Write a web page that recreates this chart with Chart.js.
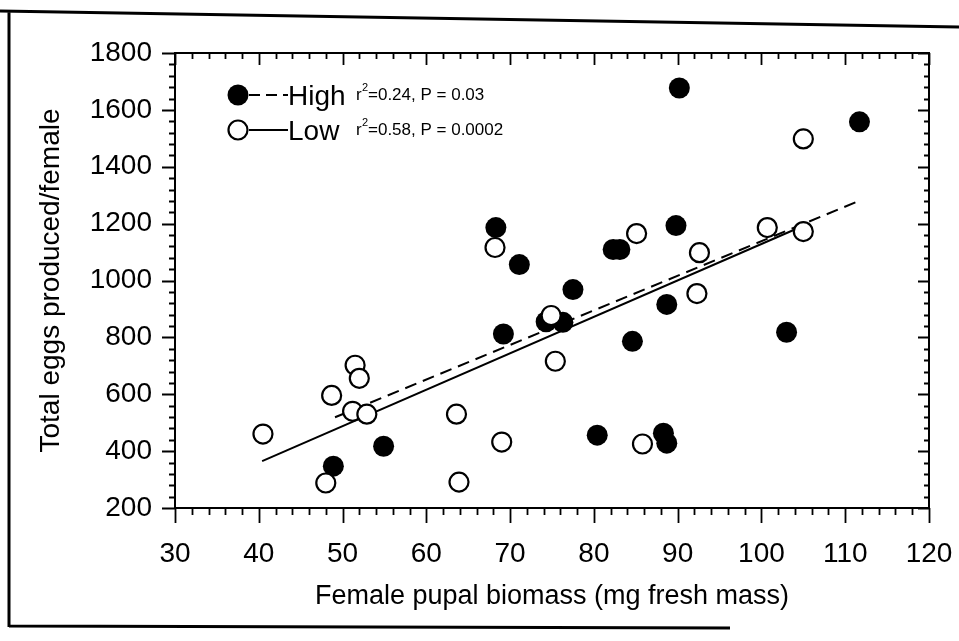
<!DOCTYPE html>
<html lang="en">
<head>
    <meta charset="UTF-8">
    <title>Eggs vs pupal biomass</title>
    <script src="https://cdn.jsdelivr.net/npm/chart.js"></script>
    <style>
        body {
            margin: 0;
            padding: 0;
            background: #ffffff;
        }
        .wrap {
            width: 959px;
            height: 641px;
            position: relative;
        }
    </style>
</head>
<body>
    <div class="wrap">
        <canvas id="eggChart"></canvas>
    </div>

    <script>
        // High density females (filled circles)
        const highMass = [48.9, 54.9, 68.3, 69.2, 71.1, 74.3, 76.3, 77.5, 80.4, 82.3, 83.1, 84.6, 88.3, 88.7, 88.7, 89.8, 90.2, 103.0, 111.7];
        const highEggs = [347, 417, 1186, 812, 1056, 855, 853, 968, 456, 1109, 1109, 786, 463, 428, 916, 1193, 1677, 818, 1558];

        // Low density females (open circles)
        const lowMass = [40.5, 48.0, 48.7, 51.5, 52.0, 51.2, 52.9, 63.6, 63.9, 69.0, 75.4, 68.2, 74.9, 85.8, 92.3, 92.6, 85.1, 100.7, 105.0, 105.0];
        const lowEggs = [460, 288, 596, 702, 656, 540, 530, 530, 291, 432, 716, 1116, 877, 425, 954, 1098, 1165, 1186, 1172, 1498];

        // fitted regression lines (end points)
        const highFitMass = [49.1, 111.4];
        const highFitEggs = [519, 1277];
        const lowFitMass = [40.4, 104.8];
        const lowFitEggs = [365, 1190];

        const xTickValues = [30, 40, 50, 60, 70, 80, 90, 100, 110, 120];
        const yTickValues = [200, 400, 600, 800, 1000, 1200, 1400, 1600, 1800];

        const legendRows = [
            { name: "High", filled: true, dashed: true, r2: "0.24", p: "0.03" },
            { name: "Low", filled: false, dashed: false, r2: "0.58", p: "0.0002" }
        ];

        const FONT = "'Liberation Sans', Arial, sans-serif";

        function pairs(xs, ys) {
            return xs.map((v, i) => ({ x: v, y: ys[i] }));
        }

        // box, ticks on all four sides, legend and page frame
        const framePlugin = {
            id: "framePlugin",
            afterDraw(chart) {
                const ctx = chart.ctx;
                const { left, right, top, bottom } = chart.chartArea;
                const xs = chart.scales.x, ys = chart.scales.y;
                ctx.save();
                ctx.strokeStyle = "#000";
                ctx.lineWidth = 2;
                ctx.strokeRect(left, top, right - left, bottom - top);

                ctx.lineWidth = 1.8;
                ctx.beginPath();
                for (let v = xs.min; v <= xs.max; v += 2) {
                    const px = Math.round(xs.getPixelForValue(v)) + 0.5;
                    const major = v % 10 === 0;
                    ctx.moveTo(px, bottom);
                    ctx.lineTo(px, bottom + (major ? 15 : 7));
                    ctx.moveTo(px, top);
                    ctx.lineTo(px, top + (major ? 12 : 6));
                }
                for (let v = ys.min; v <= ys.max; v += 40) {
                    const py = Math.round(ys.getPixelForValue(v)) + 0.5;
                    const major = v % 200 === 0;
                    ctx.moveTo(left, py);
                    ctx.lineTo(left - (major ? 13 : 6), py);
                    ctx.moveTo(right, py);
                    ctx.lineTo(right - (major ? 11 : 5), py);
                }
                ctx.stroke();

                // legend
                legendRows.forEach((row, i) => {
                    const cy = top + 42 + i * 35;
                    const cx = left + 63;
                    ctx.lineWidth = 2;
                    ctx.setLineDash(row.dashed ? [11, 6] : []);
                    ctx.beginPath();
                    ctx.moveTo(cx + 11, cy);
                    ctx.lineTo(cx + 50, cy);
                    ctx.stroke();
                    ctx.setLineDash([]);
                    ctx.beginPath();
                    ctx.arc(cx, cy, row.filled ? 10.5 : 9.5, 0, Math.PI * 2);
                    ctx.fillStyle = row.filled ? "#000" : "#fff";
                    ctx.fill();
                    if (!row.filled) {
                        ctx.lineWidth = 2.2;
                        ctx.stroke();
                    }
                    ctx.fillStyle = "#000";
                    ctx.textBaseline = "middle";
                    ctx.textAlign = "left";
                    ctx.font = "28px " + FONT;
                    ctx.fillText(row.name, cx + 50, cy + 2);
                    const sx = cx + 118;
                    ctx.font = "17px " + FONT;
                    ctx.fillText("r", sx, cy);
                    ctx.font = "11px " + FONT;
                    ctx.fillText("2", sx + 6, cy - 7);
                    ctx.font = "17px " + FONT;
                    ctx.fillText("=" + row.r2 + ", P = " + row.p, sx + 12, cy);
                });

                // scanned page frame
                ctx.lineWidth = 3;
                ctx.beginPath();
                ctx.moveTo(0, 11);
                ctx.lineTo(959, 27);
                ctx.moveTo(9, 11);
                ctx.lineTo(9, 627);
                ctx.moveTo(9, 626);
                ctx.lineTo(730, 628);
                ctx.stroke();
                ctx.restore();
            }
        };

        new Chart(document.getElementById("eggChart"), {
            type: "scatter",
            data: {
                datasets: [
                    {
                        label: "Low",
                        data: pairs(lowMass, lowEggs),
                        pointRadius: 9.5,
                        pointBackgroundColor: "#fff",
                        pointBorderColor: "#000",
                        pointBorderWidth: 2.2,
                        showLine: false
                    },
                    {
                        label: "High",
                        data: pairs(highMass, highEggs),
                        pointRadius: 10.5,
                        pointBackgroundColor: "#000",
                        pointBorderColor: "#000",
                        pointBorderWidth: 0,
                        showLine: false
                    },
                    {
                        label: "Low fit",
                        data: pairs(lowFitMass, lowFitEggs),
                        showLine: true,
                        borderColor: "#000",
                        borderWidth: 2,
                        pointRadius: 0
                    },
                    {
                        label: "High fit",
                        data: pairs(highFitMass, highFitEggs),
                        showLine: true,
                        borderColor: "#000",
                        borderWidth: 2,
                        borderDash: [12, 7],
                        pointRadius: 0
                    }
                ]
            },
            options: {
                responsive: true,
                maintainAspectRatio: false,
                animation: false,
                layout: { padding: { left: 20, right: 30, top: 53, bottom: 20 } },
                plugins: {
                    legend: { display: false },
                    tooltip: { enabled: false }
                },
                scales: {
                    x: {
                        type: "linear",
                        min: 30,
                        max: 120,
                        afterBuildTicks: s => { s.ticks = xTickValues.map(v => ({ value: v })); },
                        afterFit: s => {
                            s.height = 113;
                            s.paddingLeft = 0;
                            s.paddingRight = 0;
                        },
                        grid: { display: false },
                        border: { display: false },
                        ticks: { color: "#000", padding: 21, font: { family: FONT, size: 28 }, callback: v => String(v) },
                        title: {
                            display: true,
                            text: "Female pupal biomass (mg fresh mass)",
                            color: "#000",
                            font: { family: FONT, size: 27 },
                            padding: { top: 0, bottom: 8 }
                        }
                    },
                    y: {
                        type: "linear",
                        min: 200,
                        max: 1800,
                        afterBuildTicks: s => { s.ticks = yTickValues.map(v => ({ value: v })); },
                        afterFit: s => { s.width = 155; },
                        grid: { display: false },
                        border: { display: false },
                        ticks: { color: "#000", padding: 15, font: { family: FONT, size: 28 }, callback: v => String(v) },
                        title: {
                            display: true,
                            text: "Total eggs produced/female",
                            color: "#000",
                            font: { family: FONT, size: 28 },
                            padding: { top: 14, bottom: 0 }
                        }
                    }
                }
            },
            plugins: [framePlugin]
        });
    </script>
</body>
</html>
